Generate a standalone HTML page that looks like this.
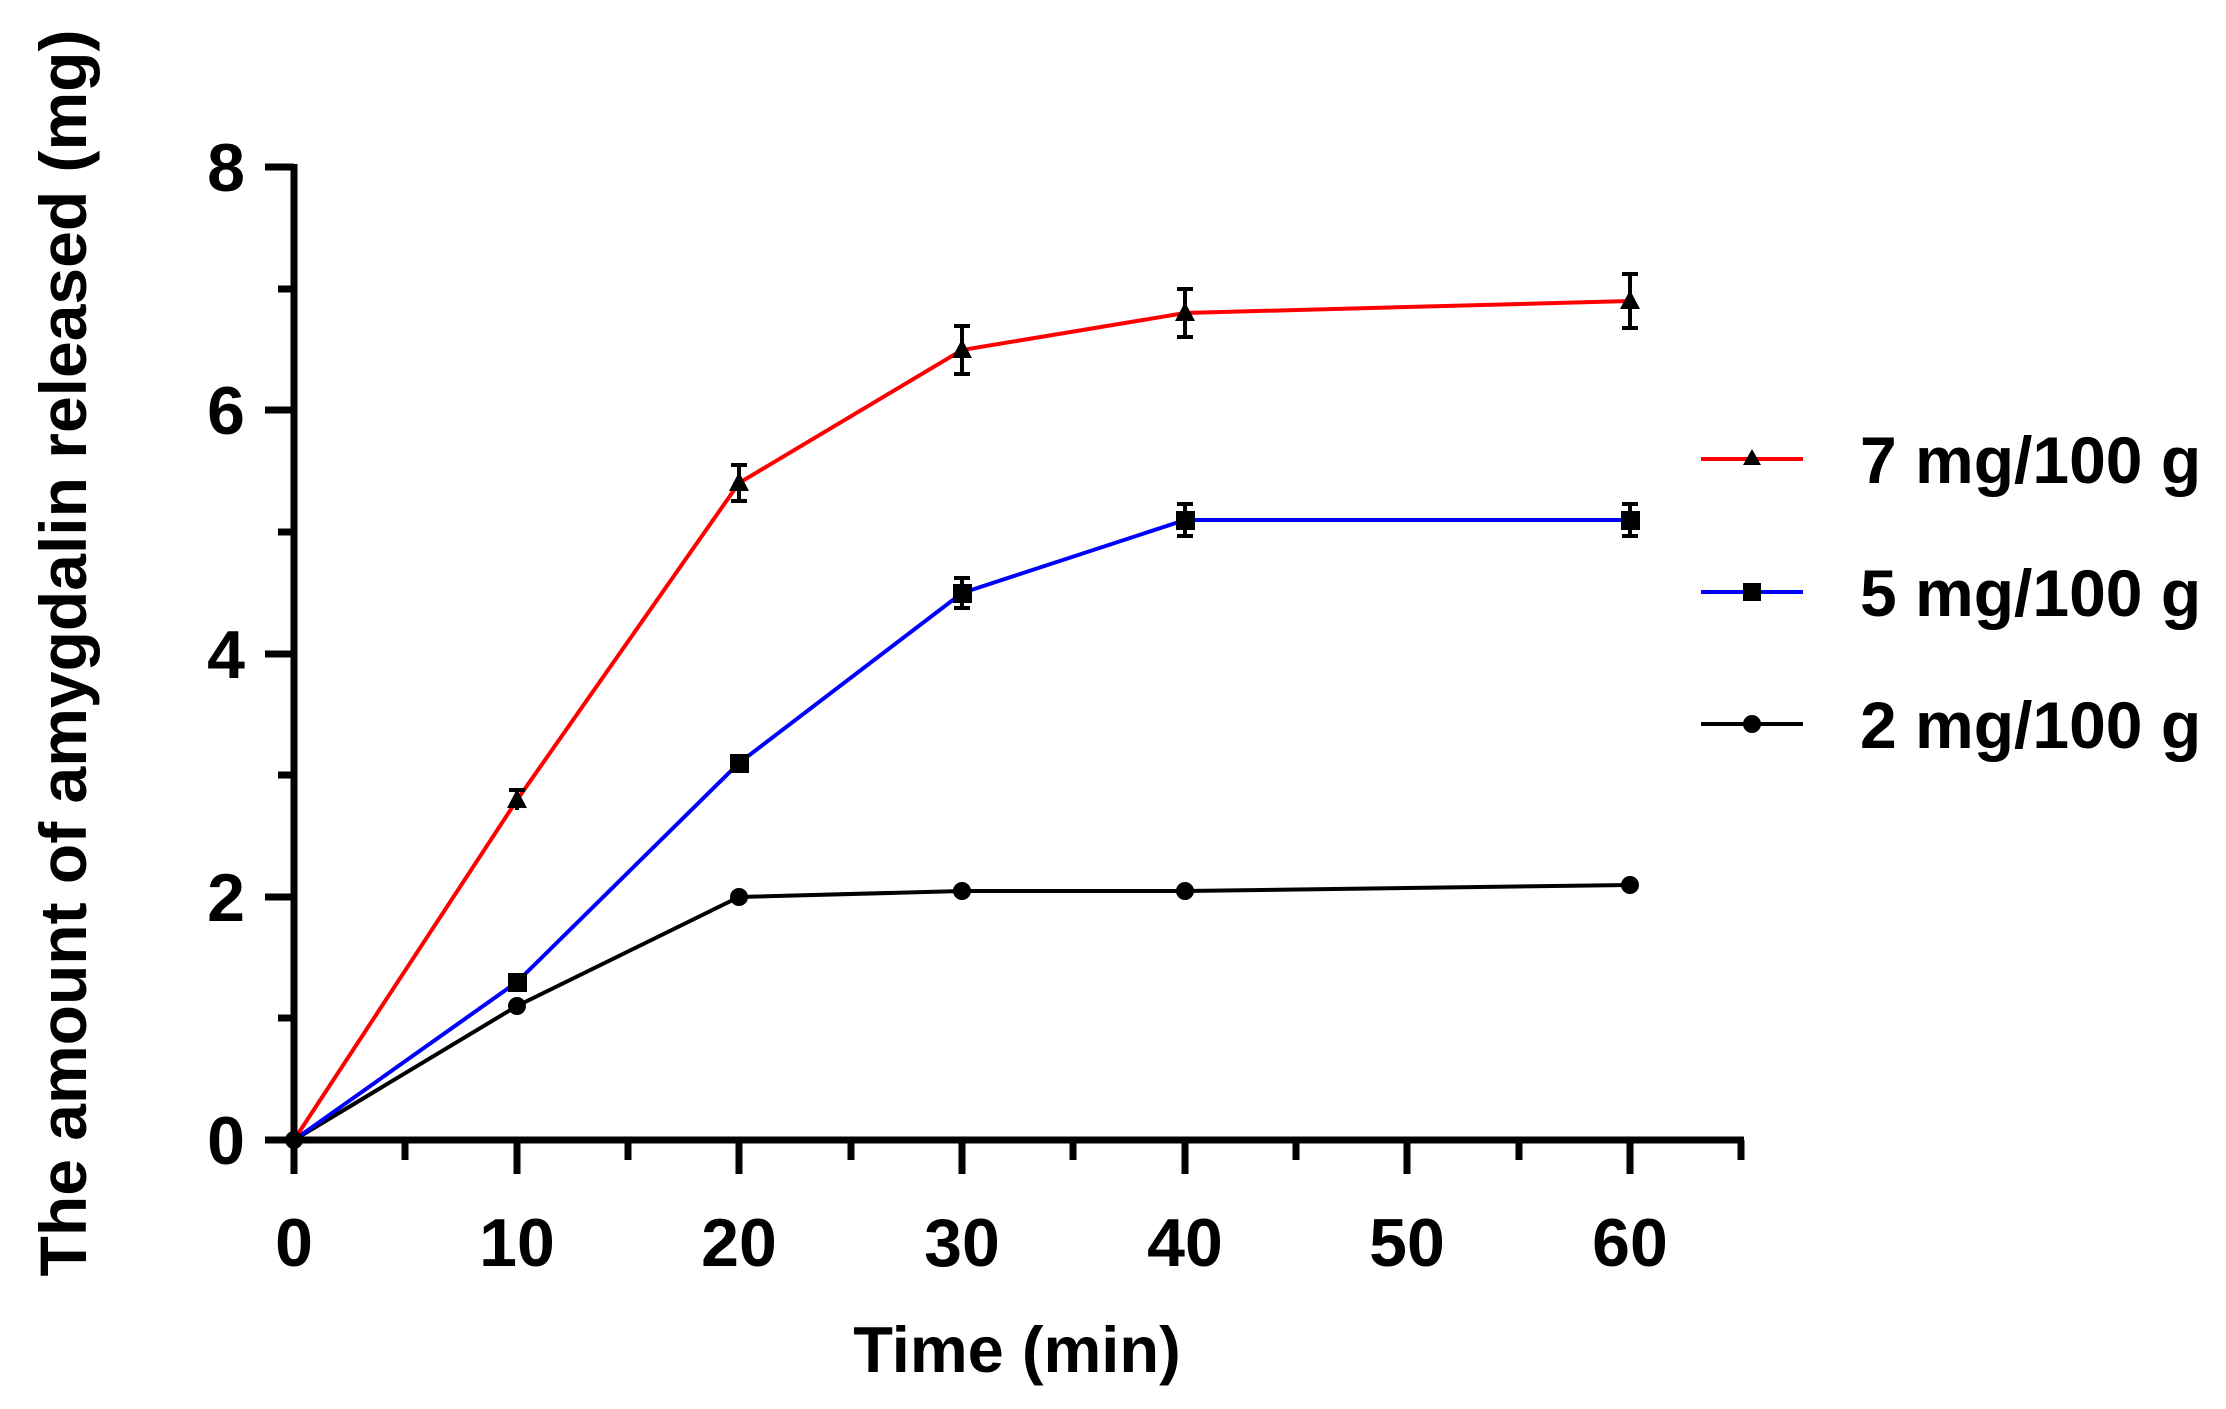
<!DOCTYPE html>
<html><head><style>body{margin:0;background:#fff}</style></head><body>
<svg width="2226" height="1404" xmlns="http://www.w3.org/2000/svg" font-family="Liberation Sans, Arial, sans-serif" font-weight="bold">
<rect width="2226" height="1404" fill="#fff"/>
<g stroke="#000" stroke-width="7" fill="none">
<line x1="294" y1="164" x2="294" y2="1143"/>
<line x1="291" y1="1140" x2="1744" y2="1140"/>
<line x1="265" y1="167" x2="294" y2="167"/><line x1="265" y1="410" x2="294" y2="410"/><line x1="265" y1="654" x2="294" y2="654"/><line x1="265" y1="897" x2="294" y2="897"/><line x1="265" y1="1140" x2="294" y2="1140"/>
<line x1="278" y1="289" x2="294" y2="289"/><line x1="278" y1="532" x2="294" y2="532"/><line x1="278" y1="775" x2="294" y2="775"/><line x1="278" y1="1018" x2="294" y2="1018"/>
<line x1="294" y1="1140" x2="294" y2="1174"/><line x1="517" y1="1140" x2="517" y2="1174"/><line x1="739" y1="1140" x2="739" y2="1174"/><line x1="962" y1="1140" x2="962" y2="1174"/><line x1="1185" y1="1140" x2="1185" y2="1174"/><line x1="1407" y1="1140" x2="1407" y2="1174"/><line x1="1630" y1="1140" x2="1630" y2="1174"/>
<line x1="405" y1="1140" x2="405" y2="1160"/><line x1="628" y1="1140" x2="628" y2="1160"/><line x1="851" y1="1140" x2="851" y2="1160"/><line x1="1073" y1="1140" x2="1073" y2="1160"/><line x1="1296" y1="1140" x2="1296" y2="1160"/><line x1="1519" y1="1140" x2="1519" y2="1160"/><line x1="1741" y1="1140" x2="1741" y2="1160"/>
</g>
<g font-size="68" text-anchor="end">
<text x="245" y="191">8</text><text x="245" y="434">6</text><text x="245" y="678">4</text><text x="245" y="921">2</text><text x="245" y="1164">0</text>
</g>
<g font-size="68" text-anchor="middle">
<text x="294" y="1266">0</text><text x="517" y="1266">10</text><text x="739" y="1266">20</text><text x="962" y="1266">30</text><text x="1185" y="1266">40</text><text x="1407" y="1266">50</text><text x="1630" y="1266">60</text>
</g>
<text x="1017" y="1372" font-size="65" text-anchor="middle">Time (min)</text>
<text transform="translate(86,653) rotate(-90)" font-size="66" text-anchor="middle">The amount of amygdalin released (mg)</text>
<polyline fill="none" stroke="#000" stroke-width="4" points="294,1140 517,1006 739,897 962,891 1185,891 1630,885"/>
<polyline fill="none" stroke="#0000ff" stroke-width="4" points="294,1140 517,982 739,763 962,593 1185,520 1630,520"/>
<polyline fill="none" stroke="#ff0000" stroke-width="4" points="294,1140 517,800 739,483 962,350 1185,313 1630,301"/>
<g stroke="#000" stroke-width="4">
<line x1="517" y1="790" x2="517" y2="810"/><line x1="509" y1="790" x2="525" y2="790"/>
<line x1="739" y1="465" x2="739" y2="501"/><line x1="731" y1="465" x2="747" y2="465"/><line x1="731" y1="501" x2="747" y2="501"/>
<line x1="962" y1="326" x2="962" y2="374"/><line x1="954" y1="326" x2="970" y2="326"/><line x1="954" y1="374" x2="970" y2="374"/>
<line x1="1185" y1="289" x2="1185" y2="337"/><line x1="1177" y1="289" x2="1193" y2="289"/><line x1="1177" y1="337" x2="1193" y2="337"/>
<line x1="1630" y1="274" x2="1630" y2="328"/><line x1="1622" y1="274" x2="1638" y2="274"/><line x1="1622" y1="328" x2="1638" y2="328"/>
<line x1="962" y1="578" x2="962" y2="608"/><line x1="954" y1="578" x2="970" y2="578"/><line x1="954" y1="608" x2="970" y2="608"/>
<line x1="1185" y1="504" x2="1185" y2="536"/><line x1="1177" y1="504" x2="1193" y2="504"/><line x1="1177" y1="536" x2="1193" y2="536"/>
<line x1="1630" y1="504" x2="1630" y2="536"/><line x1="1622" y1="504" x2="1638" y2="504"/><line x1="1622" y1="536" x2="1638" y2="536"/>
</g>
<g fill="#000">
<circle cx="294" cy="1140" r="9"/><circle cx="517" cy="1006" r="9"/><circle cx="739" cy="897" r="9"/><circle cx="962" cy="891" r="9"/><circle cx="1185" cy="891" r="9"/><circle cx="1630" cy="885" r="9"/>
<rect x="508" y="973" width="19" height="19"/><rect x="730" y="754" width="19" height="19"/><rect x="953" y="584" width="19" height="19"/><rect x="1176" y="511" width="19" height="19"/><rect x="1621" y="511" width="19" height="19"/>
<polygon points="517,789 527,808 507,808"/><polygon points="739,472 749,491 729,491"/><polygon points="962,339 972,358 952,358"/><polygon points="1185,302 1195,321 1175,321"/><polygon points="1630,290 1640,309 1620,309"/>
</g>
<line x1="1701" y1="459" x2="1803" y2="459" stroke="#ff0000" stroke-width="4"/>
<polygon points="1752,449 1761,465 1743,465" fill="#000"/>
<line x1="1701" y1="592" x2="1803" y2="592" stroke="#0000ff" stroke-width="4"/>
<rect x="1743" y="583" width="18" height="18" fill="#000"/>
<line x1="1701" y1="724" x2="1803" y2="724" stroke="#000" stroke-width="4"/>
<circle cx="1752" cy="724" r="9" fill="#000"/>
<g font-size="66">
<text x="1860" y="483">7 mg/100 g</text>
<text x="1860" y="616">5 mg/100 g</text>
<text x="1860" y="748">2 mg/100 g</text>
</g>
</svg>
</body></html>
